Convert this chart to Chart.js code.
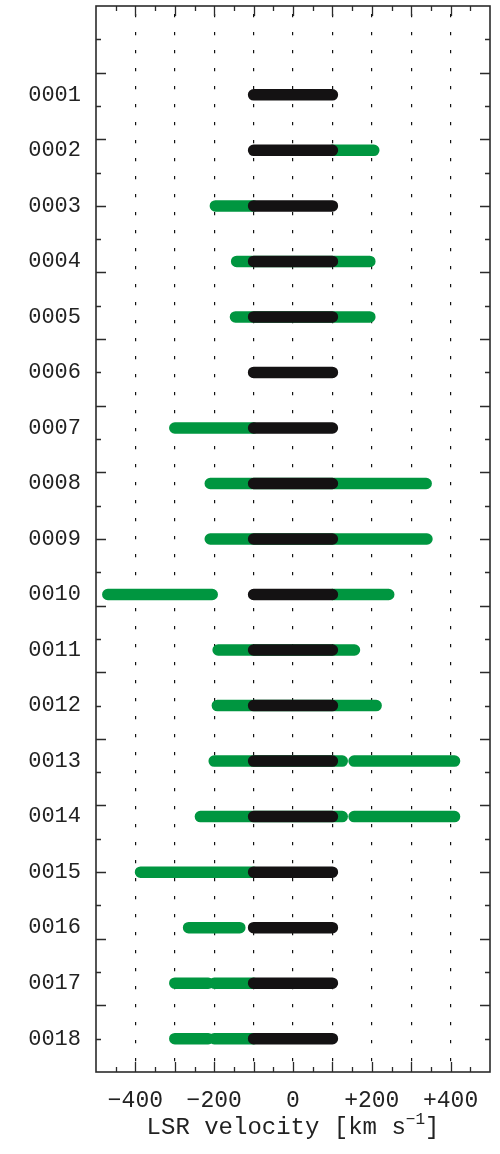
<!DOCTYPE html>
<html><head><meta charset="utf-8">
<script src="https://cdn.jsdelivr.net/npm/chart.js@4/dist/chart.umd.min.js"></script>
<style>html,body{margin:0;padding:0;background:#fff}</style>
</head><body>
<canvas id="c" width="500" height="1154"></canvas>
<script>
// ---- data ----
const rows = ['0001','0002','0003','0004','0005','0006','0007','0008','0009','0010','0011','0012','0013','0014','0015','0016','0017','0018'];
const blackLo = [-100,-100,-100,-100,-100,-100,-100,-100,-100,-100,-100,-100,-100,-100,-100,-100,-100,-100];
const blackHi = [100,100,100,100,100,100,100,100,100,100,100,100,100,100,100,100,100,100];
const greenSegments = [
  [],
  [[100,205]],
  [[-197,-100]],
  [[-143,195]],
  [[-146,195]],
  [],
  [[-300,-100]],
  [[-210,338]],
  [[-210,340]],
  [[-470,-205],[100,243]],
  [[-190,156]],
  [[-192,211]],
  [[-200,125],[155,410]],
  [[-235,125],[155,410]],
  [[-387,-100]],
  [[-265,-135]],
  [[-300,-215],[-200,-100]],
  [[-300,-215],[-200,-100]]
];
const xGridValues = [-500,-400,-300,-200,-100,0,100,200,300,400,500];
const xTickLabels = {'-400':'\u2212400','-200':'\u2212200','0':'0','200':'+200','400':'+400'};
const xMinorStep = 50;
const yMin = -0.6, yMax = 18.6, yTickStep = 0.6;
const axisTitle = ['LSR velocity [km s', '\u22121', ']'];

const GREEN = '#009640', BLACK = '#141213';
const FONT = '"Liberation Mono", "DejaVu Sans Mono", monospace';

function buildLine(segsPerRow){
  const pts = [];
  segsPerRow.forEach((segs, i) => {
    segs.forEach(([lo, hi]) => {
      pts.push({x: lo, y: i + 1}, {x: hi, y: i + 1}, {x: hi, y: null});
    });
  });
  return pts;
}
const blackData = buildLine(rows.map((r, i) => [[blackLo[i], blackHi[i]]]));
const greenData = buildLine(greenSegments);

const framePlugin = {
  id: 'frame',
  afterDraw(chart){
    const {ctx, chartArea: a, scales: {x, y}} = chart;
    ctx.save();
    ctx.strokeStyle = '#2b2b2b';
    ctx.lineWidth = 1.3;
    ctx.beginPath();
    for (let v = -500 + xMinorStep; v < 500; v += xMinorStep){
      const px = Math.round(x.getPixelForValue(v)) + 0.5;
      const len = (v % 100 === 0) ? 10 : 5;
      ctx.moveTo(px, a.bottom); ctx.lineTo(px, a.bottom - len);
      ctx.moveTo(px, a.top); ctx.lineTo(px, a.top + len);
    }
    let k = 1;
    for (let v = yMin + yTickStep; v < yMax - 1e-6; v += yTickStep, k++){
      const py = Math.round(y.getPixelForValue(v)) + 0.5;
      const len = (k % 2 === 0) ? 10 : 5;
      ctx.moveTo(a.left, py); ctx.lineTo(a.left + len, py);
      ctx.moveTo(a.right, py); ctx.lineTo(a.right - len, py);
    }
    ctx.stroke();
    ctx.lineWidth = 1.6;
    ctx.strokeRect(a.left, a.top, a.right - a.left, a.bottom - a.top);
    // axis title with superscript
    ctx.fillStyle = '#222';
    ctx.textBaseline = 'alphabetic';
    ctx.textAlign = 'left';
    const big = '24px ' + FONT, small = '16px ' + FONT;
    ctx.font = big; const w1 = ctx.measureText(axisTitle[0]).width; const w3 = ctx.measureText(axisTitle[2]).width;
    ctx.font = small; const w2 = ctx.measureText(axisTitle[1]).width;
    let x0 = (a.left + a.right) / 2 - (w1 + w2 + w3) / 2;
    const base = a.bottom + 62;
    ctx.font = big; ctx.fillText(axisTitle[0], x0, base); x0 += w1;
    ctx.font = small; ctx.fillText(axisTitle[1], x0, base - 10); x0 += w2;
    ctx.font = big; ctx.fillText(axisTitle[2], x0, base);
    ctx.restore();
  }
};

new Chart(document.getElementById('c'), {
  type: 'scatter',
  data: {
    datasets: [
      {label: 'black', data: blackData, showLine: true, borderColor: BLACK, backgroundColor: BLACK,
       borderWidth: 11.5, borderCapStyle: 'round', borderJoinStyle: 'round', pointRadius: 0, pointHoverRadius: 0, spanGaps: false, order: 0},
      {label: 'green', data: greenData, showLine: true, borderColor: GREEN, backgroundColor: GREEN,
       borderWidth: 11.5, borderCapStyle: 'round', borderJoinStyle: 'round', pointRadius: 0, pointHoverRadius: 0, spanGaps: false, order: 1}
    ]
  },
  options: {
    responsive: false,
    animation: false,
    events: [],
    devicePixelRatio: 1,
    layout: {padding: {top: 6, right: 10, left: 0, bottom: 0}},
    plugins: {legend: {display: false}, tooltip: {enabled: false}},
    scales: {
      x: {
        type: 'linear', position: 'bottom', min: -500, max: 500,
        afterBuildTicks: s => { s.ticks = xGridValues.map(v => ({value: v})); },
        afterFit: s => { s.height = 82; s.paddingLeft = 0; s.paddingRight = 0; },
        ticks: {
          autoSkip: false, maxRotation: 0, padding: 15, color: '#222',
          font: {family: FONT, size: 23},
          callback: v => (xTickLabels[String(v)] !== undefined ? xTickLabels[String(v)] : '')
        },
        grid: {
          drawTicks: false, lineWidth: 1.2,
          color: c => (c.tick && Math.abs(c.tick.value) === 500) ? 'rgba(0,0,0,0)' : '#111'
        },
        border: {display: false, dash: [3.3, 14.7], dashOffset: 10}
      },
      y: {
        type: 'linear', position: 'left', reverse: true, min: yMin, max: yMax,
        afterBuildTicks: s => { s.ticks = rows.map((r, i) => ({value: i + 1})); },
        afterFit: s => { s.width = 96; s.paddingTop = 0; s.paddingBottom = 0; },
        ticks: {
          autoSkip: false, padding: 15, color: '#222',
          font: {family: FONT, size: 22},
          callback: v => rows[Math.round(v) - 1] || ''
        },
        grid: {display: false, drawTicks: false},
        border: {display: false}
      }
    }
  },
  plugins: [framePlugin]
});
</script>
</body></html>
